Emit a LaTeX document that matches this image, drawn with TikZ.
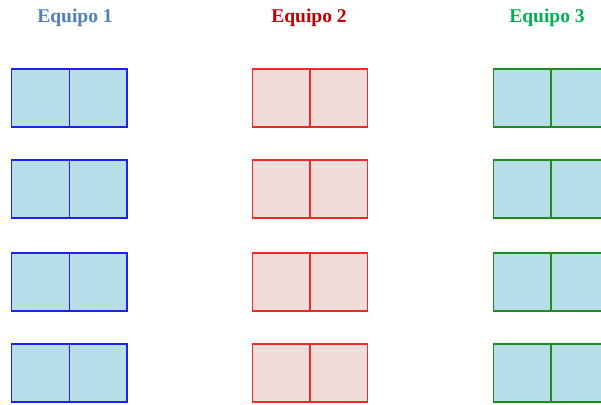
\documentclass[tikz,border=0pt]{standalone}
\usepackage{fontspec}
\setmainfont{Liberation Serif}
\definecolor{tblue}{RGB}{79,129,189}
\definecolor{tred}{RGB}{192,0,0}
\definecolor{tgreen}{RGB}{0,176,80}
\definecolor{fblue}{RGB}{183,221,232}
\definecolor{fpink}{RGB}{242,220,219}
\definecolor{sblue}{RGB}{30,30,255}
\definecolor{sred}{RGB}{245,40,40}
\definecolor{sgreen}{RGB}{30,140,30}
\tikzset{
  title/.style={font=\fontsize{19.5}{22}\selectfont\bfseries, anchor=base, inner sep=0pt},
  half/.style={draw, line width=1.3pt, minimum width=57.8pt, minimum height=57.8pt, inner sep=0pt, outer sep=0pt},
  teamone/.style={half, draw=sblue, fill=fblue},
  teamtwo/.style={half, draw=sred, fill=fpink},
  teamthree/.style={half, draw=sgreen, fill=fblue}
}
\begin{document}
\begin{tikzpicture}[x=1pt,y=-1pt]
\useasboundingbox (0,0) rectangle (601,404);
\node[title, text=tblue] (t1) at (75,22.7) {Equipo 1};
\node[title, text=tred] (t2) at (309,22.7) {Equipo 2};
\node[title, text=tgreen] (t3) at (547,22.7) {Equipo 3};
\foreach \r/\y in {1/98, 2/189, 3/282, 4/373}{
  \node[teamone] (a\r l) at (40.4,\y) {};
  \node[teamone] (a\r r) at (98.2,\y) {};
  \node[teamtwo] (b\r l) at (281.1,\y) {};
  \node[teamtwo] (b\r r) at (338.9,\y) {};
  \node[teamthree] (c\r l) at (522.1,\y) {};
  \node[teamthree] (c\r r) at (579.9,\y) {};
}
\end{tikzpicture}
\end{document}
